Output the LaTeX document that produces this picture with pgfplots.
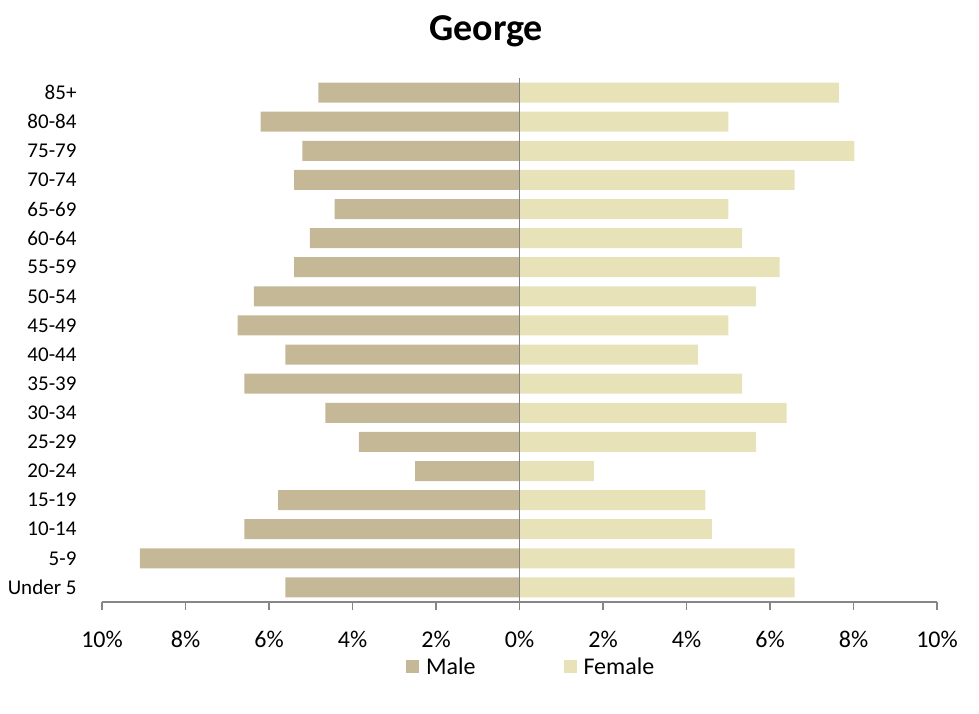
\documentclass[border=0pt]{standalone}
\usepackage{pgfplots}
\pgfplotsset{compat=1.18}
\usepackage{fontspec}
\setmainfont{Carlito}

\definecolor{malec}{HTML}{C4B896}
\definecolor{femalec}{HTML}{E8E2B8}
\definecolor{axisgray}{HTML}{868686}

\begin{document}
\begin{tikzpicture}
\path[use as bounding box] (0,0) rectangle (979pt,713pt);
\begin{axis}[
  at={(102pt,111pt)}, anchor=south west,
  scale only axis,
  width=835pt, height=524pt,
  xmin=-10, xmax=10,
  ymin=-0.5, ymax=17.5,
  xbar, bar width=20pt, bar shift=0pt,
  axis lines*=left,
  x axis line style={-, axisgray, line width=1.5pt},
  y axis line style={draw=none},
  xtick={-10,-8,...,10},
  xticklabels={10\%,8\%,6\%,4\%,2\%,0\%,2\%,4\%,6\%,8\%,10\%},
  ytick={0,...,17},
  yticklabels={Under 5,5-9,10-14,15-19,20-24,25-29,30-34,35-39,40-44,45-49,50-54,55-59,60-64,65-69,70-74,75-79,80-84,85+},
  tick align=outside,
  xtick style={axisgray, line width=1.5pt},
  major tick length=8pt,
  ytick style={draw=none},
  /pgf/number format/assume math mode=true,
  xticklabel style={font=\fontsize{24}{28}\selectfont, yshift=-18pt},
  yticklabel style={font=\fontsize{21}{25}\selectfont, xshift=-14pt},
  title={George},
  title style={font=\fontsize{38}{44}\selectfont\bfseries, at={(0.46,1.078)}, anchor=center},
  legend style={at={(0.514,-0.124)}, anchor=center, draw=none,
    font=\fontsize{24}{28}\selectfont, legend columns=2,
    /tikz/every even column/.append style={column sep=86pt}},
  legend image code/.code={\fill[#1,draw=none] (0pt,-6.5pt) rectangle (13pt,6.5pt); \path (18pt,0pt);},
]
\addplot[fill=malec, draw=none] coordinates {
  (-5.61,0) (-9.09,1) (-6.59,2) (-5.78,3) (-2.50,4) (-3.85,5)
  (-4.65,6) (-6.59,7) (-5.61,8) (-6.75,9) (-6.36,10) (-5.40,11)
  (-5.02,12) (-4.43,13) (-5.40,14) (-5.20,15) (-6.20,16) (-4.82,17)
};
\addplot[fill=femalec, draw=none] coordinates {
  (6.59,0) (6.59,1) (4.61,2) (4.45,3) (1.78,4) (5.67,5)
  (6.40,6) (5.33,7) (4.27,8) (5.00,9) (5.67,10) (6.23,11)
  (5.33,12) (5.00,13) (6.59,14) (8.02,15) (5.00,16) (7.65,17)
};
\legend{Male, Female}
\draw[axisgray, line width=1.5pt] (axis cs:0,-0.5) -- (axis cs:0,17.5);
\end{axis}
\end{tikzpicture}
\end{document}
